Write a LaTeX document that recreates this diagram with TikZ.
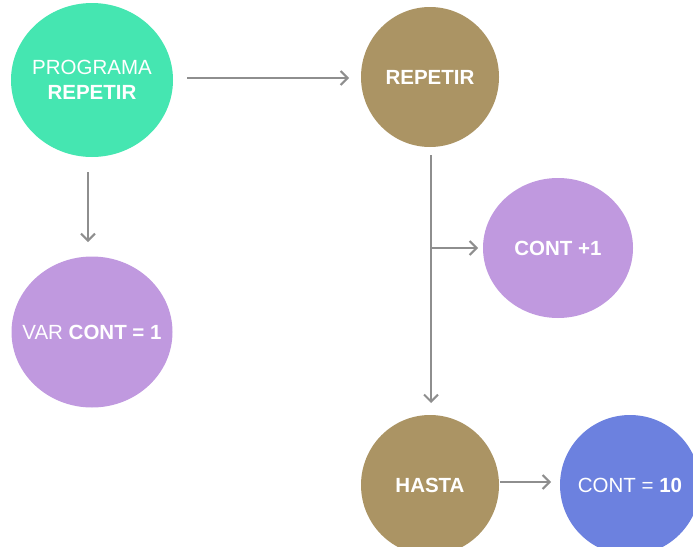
\documentclass[tikz,border=0pt]{standalone}
\usepackage{fontspec}
\setmainfont{Liberation Sans}
\usetikzlibrary{arrows.meta,shapes.geometric}
\definecolor{mint}{HTML}{45E6B1}
\definecolor{olive}{HTML}{AB9464}
\definecolor{lilac}{HTML}{C099DF}
\definecolor{periw}{HTML}{6C81DF}
\definecolor{flow}{HTML}{8E8E8E}
% zero-width centred line, so the ellipse keeps its set size
\newcommand{\ctr}[1]{\makebox[0pt][c]{#1}}
\tikzset{
  bubble/.style={ellipse, draw=none, fill=#1, text=white, align=center,
    font=\fontsize{20.5}{25}\selectfont, inner sep=0pt},
  link/.style={draw=flow, line width=2pt,
    -{Straight Barb[length=7pt,width=14pt,line width=2pt]}},
}
\begin{document}
\begin{tikzpicture}[x=1pt,y=-1pt]
  \useasboundingbox (0,0) rectangle (693,546);
  \clip (0,0) rectangle (693,546);
  \node[bubble=mint, minimum width=162pt, minimum height=154pt] (prog) at (92,80)
    {\ctr{PROGRAMA}\\\ctr{\textbf{REPETIR}}};
  \node[bubble=olive, minimum width=138pt, minimum height=140pt] (rep) at (430,77)
    {\ctr{\textbf{REPETIR}}};
  \node[bubble=lilac, minimum width=150pt, minimum height=140pt] (inc) at (558,248)
    {\ctr{\textbf{CONT +1}}};
  \node[bubble=lilac, minimum width=161pt, minimum height=151pt] (var) at (92,332)
    {\ctr{VAR \textbf{CONT = 1}}};
  \node[bubble=olive, minimum width=138pt, minimum height=140pt] (hasta) at (430,485)
    {\ctr{\textbf{HASTA}}};
  \node[bubble=periw, minimum width=140pt, minimum height=140pt] (fin) at (630,485)
    {\ctr{CONT = \textbf{10}}};

  \coordinate (branch) at (431,248);
  \draw[link] (187,78) -- (349,78);
  \draw[link] (88,172) -- (88,242);
  \draw[link] (431,155) -- (431,403);
  \draw[link] (branch) -- (478,248);
  \draw[link] (500,482) -- (551,482);
\end{tikzpicture}
\end{document}
